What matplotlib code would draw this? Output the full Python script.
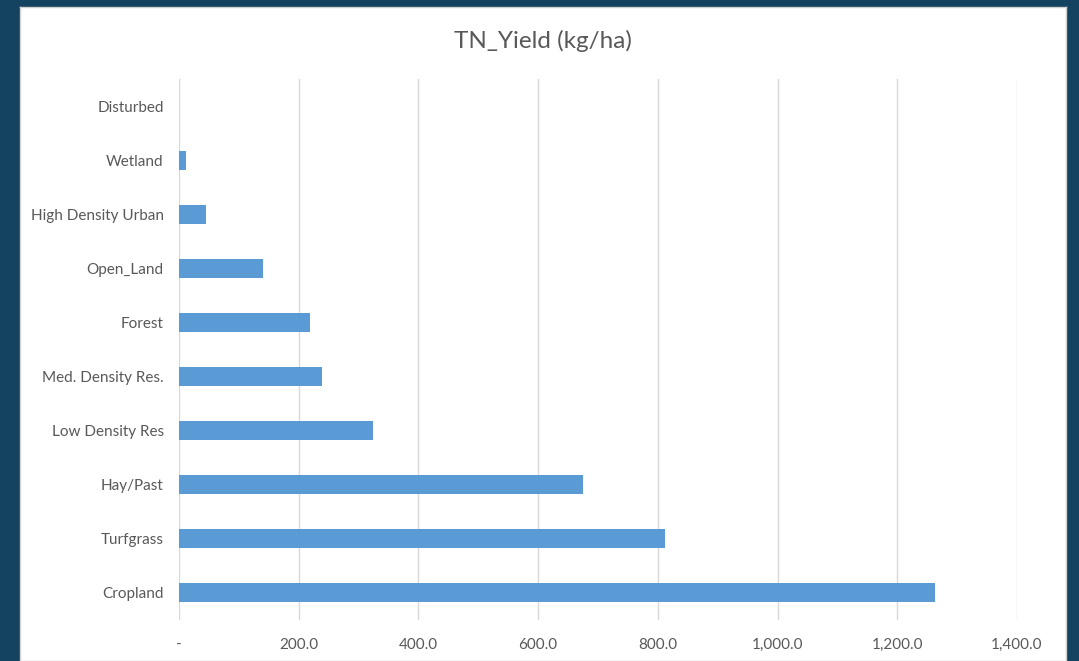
import matplotlib
matplotlib.use("Agg")
import matplotlib.pyplot as plt
from matplotlib.ticker import FuncFormatter, MultipleLocator

categories = ["Cropland", "Turfgrass", "Hay/Past", "Low Density Res",
              "Med. Density Res.", "Forest", "Open_Land",
              "High Density Urban", "Wetland", "Disturbed"]
values = [1263, 812, 675, 324, 239, 219, 140, 45, 12, 0.5]

title = "TN_Yield (kg/ha)"
bar_color = "#5B9BD5"
text_color = "#595959"
grid_color = "#D9D9D9"

plt.rcParams["font.family"] = ["Lato", "DejaVu Sans"]

W, H = 1079, 661
fig = plt.figure(figsize=(W / 100, H / 100), dpi=100)
fig.patch.set_facecolor("#134360")

# white chart panel behind the plot
bg = fig.add_axes([20 / W, 0, (1066 - 20) / W, (H - 7) / H], zorder=0)
bg.set_facecolor("white")
bg.set_xticks([])
bg.set_yticks([])
for s in bg.spines.values():
    s.set_color("#D0D0D0")
    s.set_linewidth(1.0)

left, right = 179, 1017
top, bottom = 79, 620
ax = fig.add_axes([left / W, 1 - bottom / H, (right - left) / W, (bottom - top) / H], zorder=1)
ax.set_facecolor("none")

y = list(range(len(categories)))
ax.barh(y, values, height=0.35, color=bar_color, zorder=3)

ax.set_xlim(0, 1400)
ax.set_ylim(-0.5, len(categories) - 0.5)
ax.xaxis.set_major_locator(MultipleLocator(200))
ax.xaxis.set_major_formatter(FuncFormatter(lambda v, p: "-" if v == 0 else f"{v:,.1f}"))
ax.set_yticks(y)
ax.set_yticklabels(categories)

ax.grid(axis="x", color=grid_color, linewidth=1.0, zorder=0)
for s in ax.spines.values():
    s.set_visible(False)
ax.tick_params(axis="both", length=0, labelsize=11, labelcolor=text_color)
ax.tick_params(axis="y", pad=11)
ax.tick_params(axis="x", pad=13)

fig.text((20 + 1066) / 2 / W, 1 - 41 / H, title, ha="center", va="center",
         fontsize=17.5, color=text_color, zorder=2)

fig.savefig("out.png", dpi=100, facecolor=fig.get_facecolor())
